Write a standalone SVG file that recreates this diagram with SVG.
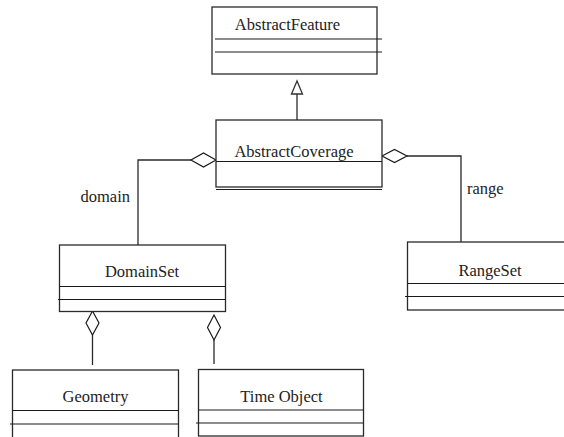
<svg xmlns="http://www.w3.org/2000/svg" width="564" height="437" viewBox="0 0 564 437">
  <style>
    .box { fill: #ffffff; stroke: #2a2a2a; stroke-width: 1.3; }
    .sep { stroke: #1a1a1a; stroke-width: 1.2; fill: none; }
    .wire { stroke: #2a2a2a; stroke-width: 1.3; fill: none; }
    .agg { fill: #ffffff; stroke: #1a1a1a; stroke-width: 1.2; }
    .gen { fill: #ffffff; stroke: #333333; stroke-width: 1.3; }
    text { font-family: "Liberation Serif", "Times New Roman", serif; font-size: 16.5px; fill: #222222; }
    .name { text-anchor: middle; }
  </style>
  <rect width="564" height="437" fill="#ffffff"/>

  <!-- connectors -->
  <g id="connectors">
    <!-- generalisation: AbstractCoverage -> AbstractFeature -->
    <line class="wire" x1="297" y1="94" x2="297" y2="120"/>
    <polygon class="gen" points="297,81 291.5,94 302.5,94"/>
    <!-- domain aggregation -->
    <polyline class="wire" points="191,160 138,160 138,245"/>
    <polygon class="agg" points="216,160 203.5,153 191,160 203.5,167"/>
    <text x="80.5" y="201.5">domain</text>
    <!-- range aggregation -->
    <polyline class="wire" points="407,156 461,156 461,242"/>
    <polygon class="agg" points="382,156 394.5,149.5 407,156 394.5,162.5"/>
    <text x="467" y="194">range</text>
    <!-- DomainSet parts -->
    <line class="wire" x1="92.5" y1="335" x2="92.5" y2="365"/>
    <polygon class="agg" points="92.5,311 99,323 92.5,335 86,323"/>
    <line class="wire" x1="214" y1="340" x2="214" y2="364"/>
    <polygon class="agg" points="214,315 220.5,327.5 214,340 207.5,327.5"/>
  </g>

  <g id="AbstractFeature">
    <rect class="box" x="212" y="7" width="165" height="67"/>
    <line class="sep" x1="215" y1="39" x2="382" y2="39"/>
    <line class="sep" x1="215" y1="52" x2="382" y2="52"/>
    <text class="name" x="287.5" y="30">AbstractFeature</text>
  </g>

  <g id="AbstractCoverage">
    <rect class="box" x="216" y="120" width="166" height="67"/>
    <line class="sep" x1="216" y1="161.5" x2="382" y2="161.5"/>
    <line class="sep" x1="216" y1="189.5" x2="382" y2="189.5"/>
    <text class="name" x="294" y="157">AbstractCoverage</text>
  </g>

  <g id="DomainSet">
    <rect class="box" x="59.5" y="245" width="166" height="66.5"/>
    <line class="sep" x1="59.5" y1="286.5" x2="225.5" y2="286.5"/>
    <line class="sep" x1="58" y1="299.5" x2="225.5" y2="299.5"/>
    <text class="name" x="142" y="277">DomainSet</text>
  </g>

  <g id="RangeSet">
    <rect class="box" x="407.5" y="242" width="166" height="68"/>
    <line class="sep" x1="407.5" y1="283.5" x2="573.5" y2="283.5"/>
    <line class="sep" x1="405" y1="296.5" x2="573.5" y2="296.5"/>
    <text class="name" x="490" y="275.5">RangeSet</text>
  </g>

  <g id="Geometry">
    <rect class="box" x="12.5" y="370" width="166" height="68"/>
    <line class="sep" x1="12.5" y1="410.5" x2="178.5" y2="410.5"/>
    <line class="sep" x1="10" y1="424" x2="178.5" y2="424"/>
    <text class="name" x="95.5" y="402">Geometry</text>
  </g>

  <g id="TimeObject">
    <rect class="box" x="198.5" y="369.5" width="165" height="66.5"/>
    <line class="sep" x1="198.5" y1="410" x2="363.5" y2="410"/>
    <line class="sep" x1="196" y1="423" x2="363.5" y2="423"/>
    <text class="name" x="281.5" y="402">Time Object</text>
  </g>
</svg>
